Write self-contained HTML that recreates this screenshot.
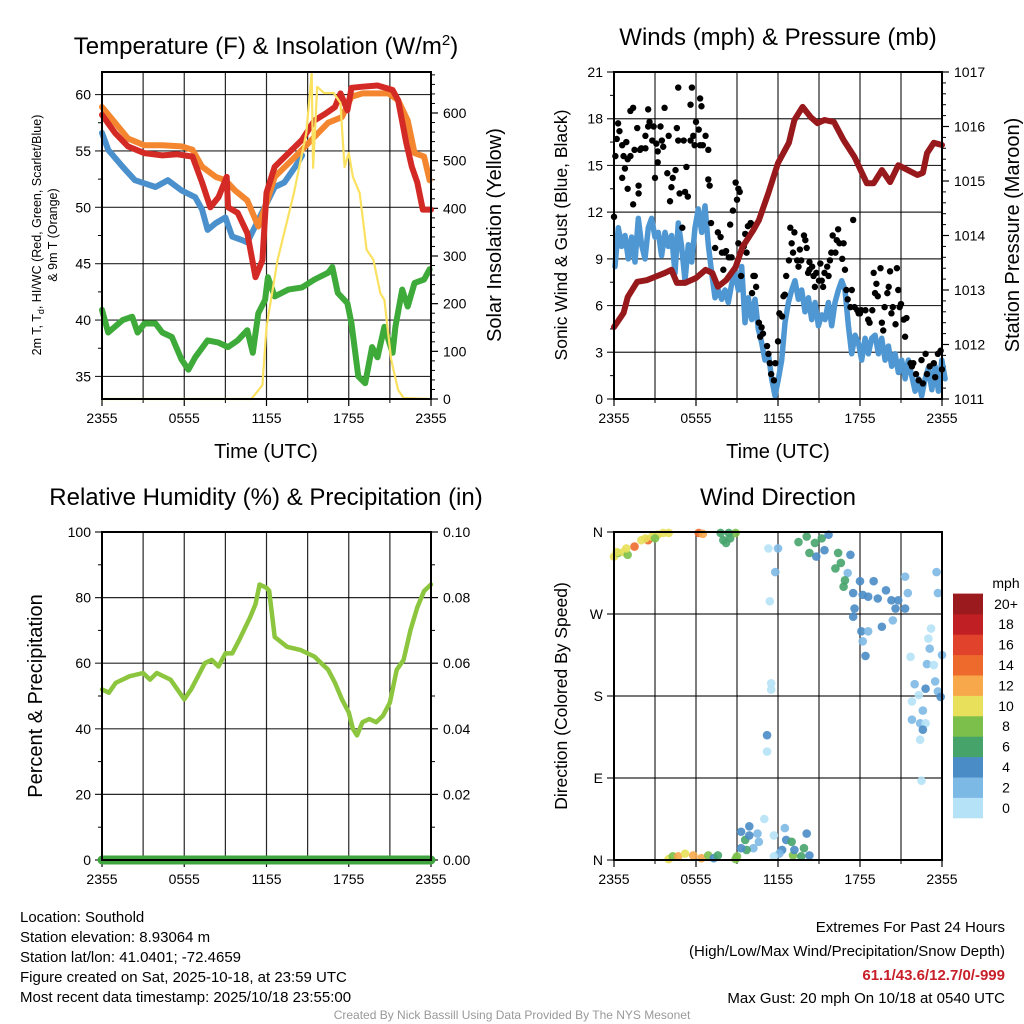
<!DOCTYPE html>
<html><head><meta charset="utf-8"><style>
html,body{margin:0;padding:0;background:#fff;}
svg{display:block;font-family:"Liberation Sans",Arial,sans-serif;}
</style></head><body>
<svg id="chart" width="1024" height="1024" viewBox="0 0 1024 1024">
<rect x="0" y="0" width="1024" height="1024" fill="#fff"/>
<g id="g1"></g>
<g id="g2"></g>
<g id="g3"></g>
<g id="g4"></g>
<g id="txt">
<text x="266" y="54" font-size="24" text-anchor="middle">Temperature (F) &amp; Insolation (W/m<tspan font-size="15" dy="-9">2</tspan><tspan dy="9">)</tspan></text>
<text x="778" y="45" font-size="24" text-anchor="middle">Winds (mph) &amp; Pressure (mb)</text>
<text x="266" y="505" font-size="24" text-anchor="middle">Relative Humidity (%) &amp; Precipitation (in)</text>
<text x="778" y="505" font-size="24" text-anchor="middle">Wind Direction</text>
<text x="266" y="458" font-size="20" text-anchor="middle">Time (UTC)</text>
<text x="778" y="458" font-size="20" text-anchor="middle">Time (UTC)</text>
<text transform="translate(41,235) rotate(-90)" font-size="12.5" text-anchor="middle">2m T, T<tspan font-size="9" dy="3">d</tspan><tspan dy="-3">, HI/WC (Red, Green, Scarlet/Blue)</tspan></text>
<text transform="translate(57,235) rotate(-90)" font-size="12.5" text-anchor="middle">&amp; 9m T (Orange)</text>
<text transform="translate(501,235) rotate(-90)" font-size="20" text-anchor="middle">Solar Insolation (Yellow)</text>
<text transform="translate(567,235) rotate(-90)" font-size="17.5" text-anchor="middle">Sonic Wind &amp; Gust (Blue, Black)</text>
<text transform="translate(1019,235) rotate(-90)" font-size="20" text-anchor="middle">Station Pressure (Maroon)</text>
<text transform="translate(42,696) rotate(-90)" font-size="20" text-anchor="middle">Percent &amp; Precipitation</text>
<text transform="translate(567,696) rotate(-90)" font-size="17.5" text-anchor="middle">Direction (Colored By Speed)</text>
<g font-size="15">
<text x="20" y="922">Location: Southold</text>
<text x="20" y="942">Station elevation: 8.93064 m</text>
<text x="20" y="962">Station lat/lon: 41.0401; -72.4659</text>
<text x="20" y="982">Figure created on Sat, 2025-10-18, at 23:59 UTC</text>
<text x="20" y="1002">Most recent data timestamp: 2025/10/18 23:55:00</text>
</g>
<g font-size="15" text-anchor="end">
<text x="1005" y="932">Extremes For Past 24 Hours</text>
<text x="1005" y="956">(High/Low/Max Wind/Precipitation/Snow Depth)</text>
<text x="1005" y="980" fill="#c8202a" font-weight="bold">61.1/43.6/12.7/0/-999</text>
<text x="1005" y="1003">Max Gust: 20 mph On 10/18 at 0540 UTC</text>
</g>
<text x="512" y="1019" font-size="12" fill="#999" text-anchor="middle">Created By Nick Bassill Using Data Provided By The NYS Mesonet</text>
</g>
</svg>
<script>
// ---- Temperature panel data (hours since 2355, value) ----
const tempRedH=[0,0.95,1.9,3.1,4.4,5.5,6.6,7.3,7.9,8.5,9.1,9.2,9.9,10.6,11.2,11.7,12.0,12.6,13.6,14.6,15.5,16.3,17.0,17.4,17.9,18.2,19.0,20.1,21.2,21.6,22.2,22.6,23.0,23.4,24];
const tempRedV=[58.2,56.6,55.4,54.8,54.6,54.7,54.5,52.2,50.0,50.9,52.7,50.0,49.5,47.7,43.8,45.3,51.3,53.6,54.8,56.0,57.7,58.3,58.9,60.1,58.6,60.6,60.7,60.8,60.4,59.5,55.7,53.6,52.2,49.8,49.8];
const temp9mH=[0,0.95,1.9,3.1,4.4,5.8,6.6,7.3,8.3,9.0,9.7,10.6,11.4,11.9,12.6,14.1,15.3,16.5,17.5,18.2,19.0,20.9,21.6,22.3,22.8,23.5,23.9];
const temp9mV=[58.9,57.5,56.1,55.5,55.5,55.4,55.1,53.6,52.7,52.4,51.5,50.6,48.3,50.0,52.7,54.5,56.0,57.5,58.0,59.8,60.1,60.1,59.5,57.7,54.8,54.5,52.4];
const hiwcH=[0,0.45,1.5,2.4,3.9,4.8,5.8,6.8,7.3,7.7,8.3,9.0,9.5,10.2,10.6,12.6,13.3,14.1,14.6];
const hiwcV=[56.6,55.1,53.6,52.4,51.8,52.4,51.5,50.9,49.8,48.0,48.6,49.1,47.4,47.1,46.9,51.8,52.2,53.6,54.6];
const dewH=[0,0.45,1.5,2.2,2.6,3.1,3.9,4.4,5.1,5.8,6.3,6.8,7.7,8.5,9.2,9.9,10.6,11.0,11.4,11.9,12.1,12.6,13.6,14.6,15.5,16.5,16.8,17.2,17.9,18.2,18.7,19.2,19.7,20.1,20.6,21.2,21.4,21.9,22.3,22.8,23.5,23.9];
const dewV=[40.9,38.9,40.0,40.3,38.9,39.7,39.7,38.9,38.5,36.5,35.6,36.7,38.2,38.0,37.6,38.2,39.1,37.1,40.6,41.8,43.8,42.1,42.7,42.9,43.6,44.2,44.7,42.4,41.5,39.7,35.0,34.4,37.6,36.7,39.4,37.1,39.4,42.7,41.2,43.3,43.6,44.5];
const solarH=[0,10.9,11.7,12.0,12.8,14.0,14.9,15.3,15.4,15.7,16.2,16.9,17.4,17.5,17.7,18.0,18.3,18.8,19.3,19.8,20.3,20.6,21.1,21.6,22.0,24];
const solarV=[0,0,29,151,291,432,558,684,485,655,642,642,621,571,487,516,466,432,313,292,222,208,82,19,2,0];
// ---- Winds panel data ----
const windStepH=0.244; // 5-min samples grouped
const sonicWind=[8.5,11.0,9.8,10.5,9.0,10.4,8.8,11.6,9.9,9.0,11.0,11.6,10.4,10.7,9.2,10.7,9.8,10.5,8.1,11.3,9.8,7.6,9.9,8.8,11.0,12.2,10.7,12.4,9.9,8.1,6.5,7.0,6.4,7.0,6.2,7.4,8.1,7.0,8.5,4.9,6.5,5.1,6.4,4.5,3.6,2.5,2.9,1.3,0.2,1.3,2.5,4.9,6.2,7.0,7.6,6.4,7.0,5.6,6.5,5.1,6.2,4.7,5.4,5.1,6.2,4.7,6.2,7.0,7.6,7.0,4.7,2.9,4.1,3.6,2.5,3.9,2.9,3.9,4.1,2.9,3.9,2.5,3.4,2.1,2.9,1.7,2.5,1.3,2.5,1.5,0.5,1.3,0.2,1.3,2.0,0.6,2.1,0.5,2.5,1.3];
const gustH=[0.0,0.1,0.2,0.3,0.4,0.6,0.6,0.7,0.8,0.9,1.0,1.0,1.2,1.2,1.4,1.4,1.5,1.7,1.8,1.8,1.9,2.0,2.3,2.3,2.5,2.5,2.6,2.8,2.9,3.0,3.1,3.2,3.2,3.4,3.5,3.6,3.7,3.9,4.0,4.1,4.2,4.3,4.5,4.6,4.7,4.7,4.8,5.0,5.1,5.2,5.3,5.4,5.6,5.6,5.7,5.8,5.9,6.0,6.2,6.3,6.3,6.4,6.5,6.7,6.9,6.9,7.0,7.1,7.4,7.6,7.8,7.9,8.0,8.1,8.2,8.4,8.5,8.6,8.7,8.9,9.0,9.1,9.1,9.2,9.3,9.5,9.6,9.7,9.8,10.0,10.1,10.1,10.2,10.3,10.4,10.6,10.7,10.8,10.9,11.2,11.3,11.4,11.5,11.7,11.8,12.0,12.1,12.3,12.4,12.5,12.6,12.8,12.9,13.0,13.1,13.2,13.4,13.5,13.6,13.7,13.9,14.0,14.1,14.2,14.3,14.3,14.5,14.6,14.7,14.8,15.0,15.1,15.2,15.3,15.4,15.6,15.7,15.8,15.9,16.0,16.2,16.3,16.4,16.5,16.7,16.8,16.9,17.0,17.1,17.3,17.4,17.5,17.6,17.8,17.9,18.0,18.1,18.4,18.6,18.7,18.9,19.0,19.1,19.2,19.3,19.5,19.6,19.7,19.8,20.0,20.1,20.2,20.3,20.4,20.6,20.7,20.8,20.9,21.0,21.2,21.3,21.4,21.7,21.8,21.9,22.1,22.3,22.5,22.6,22.8,22.9,23.1,23.4,23.5,23.7,23.9,24.0];
const gustV=[11.7,15.6,16.7,17.7,17.2,16.3,14.2,15.6,14.8,16.5,13.5,15.4,15.6,18.5,18.7,12.5,16.0,17.4,13.2,13.7,16.0,16.1,16.9,16.1,18.6,17.5,17.8,16.6,17.5,14.2,16.4,15.2,15.9,17.5,16.6,16.2,18.7,14.5,16.9,12.7,13.6,14.2,14.7,17.4,20.0,16.6,13.2,11.0,16.6,13.3,14.9,13.0,16.6,18.9,20.0,16.9,16.3,17.8,17.3,19.3,16.3,18.8,16.3,16.9,16.0,14.1,13.7,11.3,9.7,10.7,10.4,9.4,8.3,9.4,9.5,9.1,11.2,9.1,12.1,13.9,12.8,13.5,10.0,13.3,7.9,9.8,10.6,9.4,11.1,11.3,11.2,6.8,7.9,7.9,7.2,4.9,4.0,4.6,4.2,3.4,2.9,2.3,1.6,1.2,2.3,3.7,5.5,5.3,6.6,6.7,7.9,8.9,11.0,10.0,9.4,10.7,8.9,8.5,9.6,8.9,10.5,10.2,9.7,8.1,8.8,8.3,8.5,7.9,7.2,8.1,7.6,8.7,7.6,7.2,8.1,8.5,7.9,8.9,9.4,10.5,9.4,10.2,10.9,10.0,9.0,10.0,8.3,7.0,6.4,5.9,7.0,11.5,5.9,5.7,5.5,5.5,5.7,5.7,5.1,4.9,5.7,8.1,6.8,7.4,6.6,8.4,4.9,4.4,5.9,6.8,7.2,8.2,5.5,5.9,4.8,8.4,7.0,5.9,6.1,5.1,4.0,5.2,2.3,2.1,2.3,1.6,1.2,2.5,1.0,2.9,1.6,2.1,2.3,1.4,2.9,3.1,1.9];
const presH=[0,0.7,1.0,1.7,2.4,3.0,3.7,4.2,4.6,5.2,6.0,6.7,7.2,7.6,8.2,8.9,9.4,10.2,10.6,11.3,12.0,12.8,13.2,13.8,14.4,14.9,15.4,16.1,16.8,17.6,18.5,19.0,19.6,20.2,20.8,21.5,22.2,22.6,22.9,23.4,24];
const presV=[1012.32,1012.58,1012.87,1013.15,1013.18,1013.24,1013.31,1013.37,1013.13,1013.13,1013.22,1013.37,1013.31,1013.06,1013.18,1013.42,1013.79,1014.1,1014.28,1014.78,1015.33,1015.7,1016.12,1016.36,1016.17,1016.06,1016.12,1016.08,1015.75,1015.44,1014.96,1014.96,1015.2,1014.98,1015.29,1015.2,1015.11,1015.15,1015.51,1015.7,1015.66];
// ---- Humidity panel data ----
const rhH=[0,0.5,1,2,3,3.5,4,5,5.5,6,6.5,7,7.5,8,8.5,9,9.5,10,10.8,11.2,11.5,12,12.2,12.6,13.5,14.5,15.5,16,16.5,17,17.5,18,18.3,18.6,19,19.5,20,20.5,21,21.5,22,22.5,23,23.5,24];
const rhV=[52,51,54,56,57,55,57,55,52,49,52,56,60,61,59,63,63,67,74,78,84,83,82,68,65,64,62,60,58,54,49,45,40,38,42,43,42,44,48,58,61,70,77,82,84];
const precipH=[0,24];
const precipV=[0,0];
// ---- Wind direction data ----
const dirH=[0,0.3,0.7,1.0,1.5,2.0,2.5,2.8,3.2,3.6,4.0,2.3,0.9,0.2,3.0,6.2,6.5,7.8,8.0,8.2,8.5,8.9,8.4,11.3,12.0,11.8,11.4,13.5,14.1,14.7,15.2,15.7,15.4,14.8,14.3,16.2,16.4,16.6,17.1,17.3,16.8,16.9,17.5,18.0,19.0,18.2,18.6,19.3,19.9,20.3,20.8,21.3,21.5,17.6,17.5,18.1,18.6,18.2,18.4,19.6,20.4,21.3,20.6,23.6,23.7,23.2,23.0,23.1,22.9,23.4,21.7,24.0,22.0,23.5,22.8,22.3,21.8,23.7,23.9,22.6,21.8,22.4,22.8,22.6,22.4,22.5,11.5,11.5,11.2,11.2,11.0,9.3,9.6,9.9,9.9,10.5,10.6,10.2,9.7,9.3,11.7,12.3,12.1,12.5,12.6,13.0,13.1,13.2,13.9,14.1,14.3,13.7,11.7,8.9,9.0,4.0,4.3,4.7,5.2,5.8,6.4,6.9,7.3,7.6];
const dirDeg=[333,337,338,335,344,351,351,355,357,359,359,353,342,338,353,359,358,359,351,348,353,359,359,342,342,316,284,349,355,348,353,357,340,333,337,320,337,326,315,335,300,307,293,306,306,291,289,287,296,285,285,276,293,276,267,251,251,240,224,256,263,311,276,316,293,254,243,232,215,214,223,225,193,196,188,181,174,185,179,164,154,150,150,143,132,87,194,187,137,119,45,31,22,37,27,29,20,13,11,13,27,11,7,35,22,20,5,11,13,29,5,4,4,1,4,1,4,4,7,5,2,5,2,5];
const dirSpd=[10,8,10,8,14,10,13,10,10,10,10,10,10,10,8,14,12,6,6,6,6,8,6,0,1,1,0,6,6,6,6,4,4,4,6,6,6,6,2,4,6,6,4,4,4,4,4,4,4,3,4,3,2,4,4,3,2,2,3,3,2,2,4,1,1,0,0,1,1,0,0,2,1,2,4,0,0,2,4,1,1,1,0,4,0,0,0,0,3,0,0,4,6,4,4,2,2,2,6,4,0,4,2,2,4,6,8,4,6,4,4,6,0,8,8,10,8,12,10,12,12,8,4,6];
const speedBins=["0","2","4","6","8","10","12","14","16","18","20+"];
const speedColors=["#b5e2f7","#7db9e5","#4a8cc6","#46a46b","#7cc04b","#e8e05a","#f7a84a","#ee6a2c","#e0422b","#c01f24","#9a1a1d"];
const timeLabels=["2355","0555","1155","1755","2355"];

const NS="http://www.w3.org/2000/svg";
function mk(parent,tag,attrs){const e=document.createElementNS(NS,tag);for(const k in attrs)e.setAttribute(k,attrs[k]);parent.appendChild(e);return e;}
function lin(d0,d1,r0,r1){return v=>r0+(v-d0)*(r1-r0)/(d1-d0);}

function frame(g,x0,x1,y0,y1,yL,yR){
  const xs=lin(0,24,x0,x1);
  for(let h=3;h<24;h+=3){const l=mk(g,'line',{x1:xs(h),x2:xs(h),y1:y0,y2:y1,stroke:'#000','stroke-width':1.2,'stroke-opacity':0.85});
  
  }
  yL.ticks.forEach(t=>{const y=yL.s(t.v);const l=mk(g,'line',{x1:x0-7,x2:x1,y1:y,y2:y,stroke:'#000','stroke-width':1.2,'stroke-opacity':0.85});
  
  
  const tx=mk(g,'text',{x:x0-11,y:y+5,'font-size':14,'text-anchor':'end'});tx.textContent=t.l;
  
  });
  (yL.minor||[]).forEach(v=>{const y=yL.s(v);mk(g,'line',{x1:x0-4,x2:x0,y1:y,y2:y,stroke:'#000','stroke-width':1});});
  if(yR){yR.ticks.forEach(t=>{const y=yR.s(t.v);mk(g,'line',{x1:x1,x2:x1+7,y1:y,y2:y,stroke:'#000','stroke-width':1.2});
  const tx=mk(g,'text',{x:x1+12,y:y+5,'font-size':14});tx.textContent=t.l;
  
  });
  (yR.minor||[]).forEach(v=>{const y=yR.s(v);mk(g,'line',{x1:x1,x2:x1+4,y1:y,y2:y,stroke:'#000','stroke-width':1});});}
  timeLabels.forEach((lb,i)=>{const x=xs(i*6);mk(g,'line',{x1:x,x2:x,y1:y1,y2:y1+7,stroke:'#000','stroke-width':1.2});
  const tx=mk(g,'text',{x:x,y:y1+24,'font-size':14,'text-anchor':'middle'});tx.textContent=lb;
  
  });
  for(let h=3;h<24;h+=6){mk(g,'line',{x1:xs(h),x2:xs(h),y1:y1,y2:y1+4,stroke:'#000','stroke-width':1});}
  return xs;
}
function border(g,x0,x1,y0,y1){const r=mk(g,'rect',{x:x0,y:y0,width:x1-x0,height:y1-y0,fill:'none',stroke:'#000','stroke-width':2});

}
function path(g,H,V,xs,ys,color,w,name){let d='',pen=false;H.forEach((h,i)=>{const v=V[i];if(v===null){pen=false;return;}d+=(pen?'L':'M')+xs(h).toFixed(1)+' '+ys(v).toFixed(1);pen=true;});
const p=mk(g,'path',{d:d,fill:'none',stroke:color,'stroke-width':w,'stroke-linejoin':'round','stroke-linecap':'round'});

return p;}
function range(a,b,s){const r=[];for(let v=a;v<=b+1e-9;v+=s)r.push(+v.toFixed(3));return r;}

// Panel 1
{const g=document.getElementById('g1');const x0=102,x1=431,y0=72,y1=399;
 const yl=lin(33,62,y1,y0), yr=lin(0,686,y1,y0);
 const xs=frame(g,x0,x1,y0,y1,{s:yl,ticks:[35,40,45,50,55,60].map(v=>({v,l:v})),minor:[37.5,42.5,47.5,52.5,57.5]},
  {s:yr,ticks:[0,100,200,300,400,500,600].map(v=>({v,l:v})),minor:range(20,680,20).filter(v=>v%100)});
 path(g,dewH,dewV,xs,yl,'#3eaa3a',6,'dewpoint-line');
 path(g,hiwcH,hiwcV,xs,yl,'#4a90cc',6,'heat-index-wind-chill-line');
 path(g,temp9mH,temp9mV,xs,yl,'#f3862e',6,'temp-9m-line');
 path(g,tempRedH,tempRedV,xs,yl,'#d42a26',6,'temp-2m-line');
 path(g,solarH,solarV,xs,yr,'#fbe160',2.2,'solar-insolation-line');
 border(g,x0,x1,y0,y1);}

// Panel 2
{const g=document.getElementById('g2');const x0=614,x1=942,y0=72,y1=399;
 const yl=lin(0,21,y1,y0), yr=lin(1011,1017,y1,y0);
 const xs=frame(g,x0,x1,y0,y1,{s:yl,ticks:range(0,21,3).map(v=>({v,l:v})),minor:range(1.5,19.5,3)},
  {s:yr,ticks:range(1011,1017,1).map(v=>({v,l:v})),minor:range(1011.2,1016.8,0.2).filter(v=>Math.abs(v-Math.round(v))>0.05)});
 const wH=sonicWind.map((v,i)=>0.07+i*windStepH);
 path(g,wH,sonicWind,xs,yl,'#4f97d2',5.5,'sonic-wind-line');
 gustH.forEach((h,i)=>{const c=mk(g,'circle',{cx:xs(h),cy:yl(gustV[i]),r:3.2,fill:'#000'});
 
 });
 path(g,presH,presV,xs,yr,'#98191c',6,'pressure-line');
 border(g,x0,x1,y0,y1);}

// Panel 3
{const g=document.getElementById('g3');const x0=102,x1=431,y0=532,y1=860;
 const yl=lin(0,100,y1,y0), yr=lin(0,0.1,y1,y0);
 const xs=frame(g,x0,x1,y0,y1,{s:yl,ticks:range(0,100,20).map(v=>({v,l:v})),minor:range(10,90,20)},
  {s:yr,ticks:range(0,0.1,0.02).map(v=>({v,l:v.toFixed(2)})),minor:range(0.01,0.09,0.02)});
 path(g,rhH,rhV,xs,yl,'#8cc63e',4.5,'relative-humidity-line');
 path(g,precipH,precipV,xs,yr,'#3fa43f',9,'precipitation-line');
 border(g,x0,x1,y0,y1);}

// Panel 4
{const g=document.getElementById('g4');const x0=614,x1=942,y0=532,y1=860;
 const yl=lin(0,360,y1,y0);
 const xs=frame(g,x0,x1,y0,y1,{s:yl,ticks:[{v:0,l:'N'},{v:90,l:'E'},{v:180,l:'S'},{v:270,l:'W'},{v:360,l:'N'}]},null);
 dirH.forEach((h,i)=>{const b=Math.min(10,Math.round(dirSpd[i]/2));const c=mk(g,'circle',{cx:xs(h),cy:yl(dirDeg[i]),r:4.3,fill:speedColors[b],'fill-opacity':0.9});
 
 });
 border(g,x0,x1,y0,y1);
 const lg=mk(g,'g',{});
 
 
 const t=mk(lg,'text',{x:1006,y:588,'font-size':14,'text-anchor':'middle'});t.textContent='mph';
 const bh=20.4;speedBins.forEach((lb,i)=>{const y=818-(i+1)*bh;mk(lg,'rect',{x:953,y:y,width:30,height:bh+0.3,fill:speedColors[i]});
 const tx=mk(lg,'text',{x:1006,y:y+bh/2+5,'font-size':14,'text-anchor':'middle'});tx.textContent=lb;
 
 });}
</script>
</body></html>
